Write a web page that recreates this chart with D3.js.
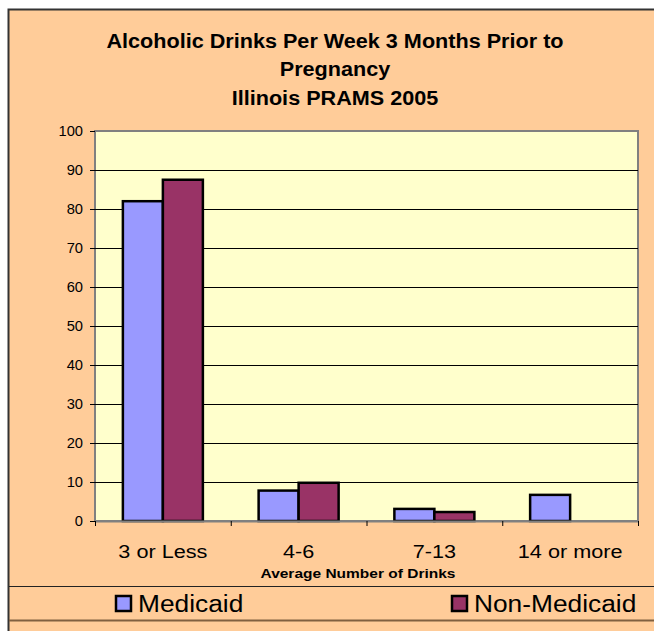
<!DOCTYPE html>
<meta charset="utf-8">
<style>
body { margin: 0; background: #fff; }
text { font-family: Arial, "Liberation Sans", sans-serif; fill: #000; }
</style>
<svg width="654" height="631"></svg>
<script src="https://d3js.org/d3.v7.min.js"></script>
<script>

var categories = ["3 or Less", "4-6", "7-13", "14 or more"];
var seriesNames = ["Medicaid", "Non-Medicaid"];
var medicaid = [82, 7.8, 3.1, 6.7];
var nonMedicaid = [87.5, 9.8, 2.3, 0];
var yTicks = [0, 10, 20, 30, 40, 50, 60, 70, 80, 90, 100];
var titleLines = ["Alcoholic Drinks Per Week 3 Months Prior to", "Pregnancy", "Illinois PRAMS 2005"];

var colors = ["#9999ff", "#993366"];
var font = "Arial, 'Liberation Sans', sans-serif";

var svg = d3.select("svg");

// the original text is a bit wider than Liberation Sans, stretch it around its anchor
function stretch(sel, sx) {
  sel.attr("transform", function() {
    var x = +this.getAttribute("x") || 0;
    return "translate(" + (x * (1 - sx)) + ",0) scale(" + sx + ",1)";
  });
}

// chart background
svg.append("rect")
    .attr("x", 8.5).attr("y", 9.5)
    .attr("width", 660).attr("height", 640)
    .attr("fill", "#ffcc99")
    .attr("stroke", "#333").attr("stroke-width", 2);

svg.append("g")
  .selectAll("text")
  .data(titleLines)
  .enter().append("text")
    .attr("text-anchor", "middle")
    .attr("font-weight", "bold")
    .attr("font-size", 21)
    .attr("x", 335)
    .attr("y", (d, i) => 48 + i * 28.5)
    .text(d => d)
    .call(stretch, 1.03);

var margin = {left: 95, right: 638, top: 131, bottom: 521};

var x = d3.scaleBand()
    .domain(categories)
    .range([margin.left, margin.right]);

var x1 = d3.scaleBand()
    .domain(seriesNames)
    .range([0, 80]);

var y = d3.scaleLinear()
    .domain([0, 100])
    .range([margin.bottom, margin.top]);

svg.append("rect")
    .attr("x", margin.left).attr("y", margin.top)
    .attr("width", margin.right - margin.left)
    .attr("height", margin.bottom - margin.top)
    .attr("fill", "#ffffcc")
    .attr("stroke", "#808080").attr("stroke-width", 2);

svg.append("g")
  .selectAll("line")
  .data(yTicks.filter(d => d > 0 && d < 100))
  .enter().append("line")
    .attr("x1", margin.left).attr("x2", margin.right)
    .attr("y1", d => Math.round(y(d)) + 0.5)
    .attr("y2", d => Math.round(y(d)) + 0.5)
    .attr("stroke", "#000");

var yAxis = svg.append("g")
    .attr("transform", "translate(" + margin.left + ",0)")
    .call(d3.axisLeft(y).tickValues(yTicks).tickSize(5).tickPadding(7));
yAxis.select(".domain").remove();
yAxis.selectAll("text").attr("font-size", 14).attr("font-family", font).call(stretch, 1.05);

var rows = categories.map((c, i) => ({cat: c, values: [medicaid[i], nonMedicaid[i]]}));

svg.append("g")
  .selectAll("g")
  .data(rows)
  .enter().append("g")
    .attr("transform", d => "translate(" + (x(d.cat) + x.bandwidth() / 2 - 40) + ",0)")
  .selectAll("rect")
  .data(d => d.values.map((v, j) => ({name: seriesNames[j], value: v, j: j})))
  .enter().filter(d => d.value > 0).append("rect")
    .attr("x", d => x1(d.name))
    .attr("y", d => y(d.value))
    .attr("width", x1.bandwidth())
    .attr("height", d => y(0) - y(d.value))
    .attr("fill", d => colors[d.j])
    .attr("stroke", "#000").attr("stroke-width", 2.5);

var xAxis = svg.append("g")
    .attr("transform", "translate(0," + margin.bottom + ")")
    .call(d3.axisBottom(x).tickSize(0).tickPadding(24));
xAxis.select(".domain").attr("stroke", "#808080").attr("stroke-width", 2);
xAxis.selectAll("text").attr("font-size", 19).attr("font-family", font).call(stretch, 1.14);

svg.append("g")
  .selectAll("line")
  .data(d3.range(categories.length + 1))
  .enter().append("line")
    .attr("x1", i => margin.left + i * x.step() + 0.5)
    .attr("x2", i => margin.left + i * x.step() + 0.5)
    .attr("y1", margin.bottom).attr("y2", margin.bottom + 5)
    .attr("stroke", "#000");

svg.append("text")
    .attr("x", 358).attr("y", 578)
    .attr("text-anchor", "middle")
    .attr("font-weight", "bold")
    .attr("font-size", 12.5)
    .text("Average Number of Drinks")
    .call(stretch, 1.24);

// legend
svg.append("line")
    .attr("x1", 9).attr("x2", 654)
    .attr("y1", 586.5).attr("y2", 586.5)
    .attr("stroke", "#222");
svg.append("line")
    .attr("x1", 9).attr("x2", 654)
    .attr("y1", 620.5).attr("y2", 620.5)
    .attr("stroke", "#806040").attr("stroke-width", 2);

var legendX = [116, 452];
var legend = svg.append("g")
  .selectAll("g")
  .data(seriesNames)
  .enter().append("g")
    .attr("transform", (d, i) => "translate(" + legendX[i] + ",596)");
legend.append("rect")
    .attr("width", 15).attr("height", 15)
    .attr("fill", (d, i) => colors[i])
    .attr("stroke", "#000").attr("stroke-width", 2.5);
legend.append("text")
    .attr("x", 22).attr("y", 16)
    .attr("font-size", 23.5)
    .text(d => d)
    .call(stretch, 1.12);

</script>
